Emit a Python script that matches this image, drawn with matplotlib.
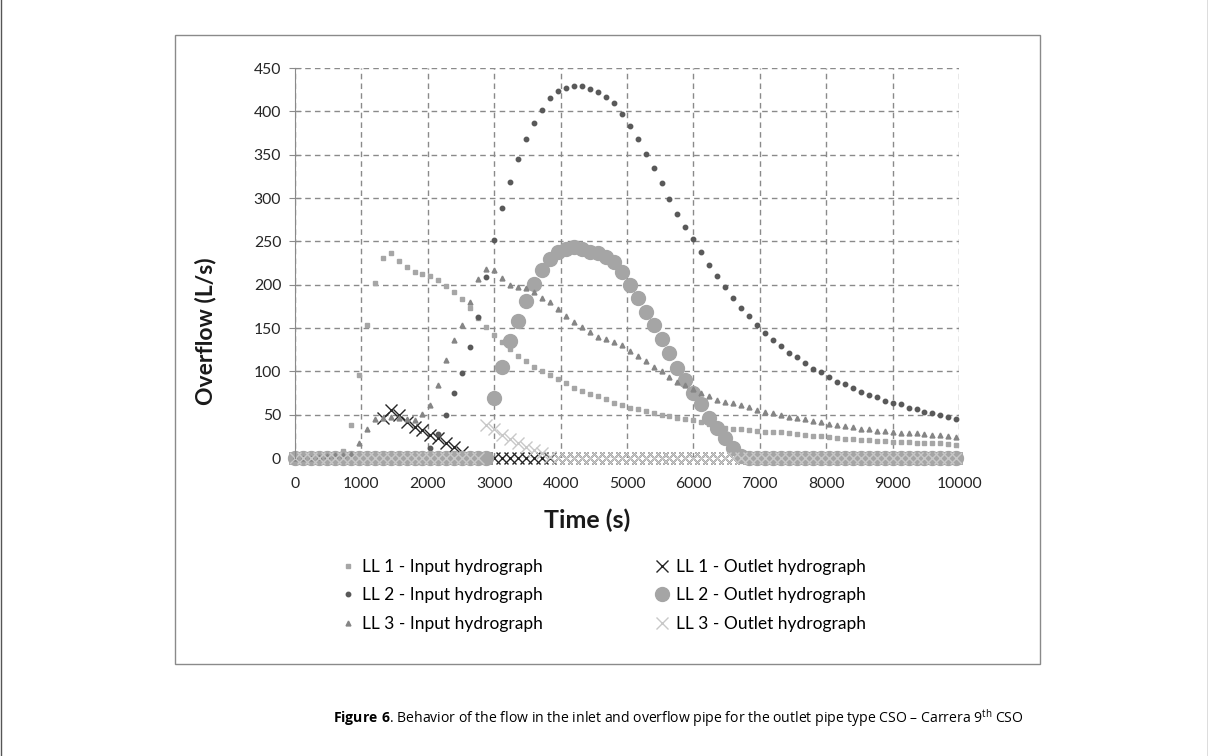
import numpy as np
import matplotlib
matplotlib.use("Agg")
import matplotlib.pyplot as plt
from matplotlib.patches import Rectangle
from matplotlib.lines import Line2D

plt.rcParams["font.family"] = ["Lato", "DejaVu Sans"]
plt.rcParams["mathtext.fontset"] = "custom"
plt.rcParams["mathtext.rm"] = "Open Sans"
plt.rcParams["mathtext.bf"] = "Open Sans:bold"

# time grid (s), one sample every 2 minutes
time = np.arange(0, 10000, 120)

ll1_input = [0, 0, 0, 0, 0, 1, 8, 38, 96, 154,
             202, 231, 236, 227, 220, 215, 212, 210, 205, 199,
             192, 184, 173, 161, 151, 142, 134, 126, 118, 112,
             105, 100, 96, 91, 86, 81, 77, 74, 71, 68,
             64, 61, 58, 56, 54, 52, 50, 48, 46.5, 45,
             44, 41, 39, 37, 35, 34, 33, 32, 31, 30.5,
             30, 29.5, 28.5, 27.5, 26.5, 25.5, 25, 24, 23, 22.5,
             22, 21, 20.5, 20, 19.5, 19, 18.5, 18, 17.5, 17.2,
             17, 16.8, 16.5, 15.5]

ll2_input = [0, 0, 0, 0, 0, 0, 0, 0, 0, 0,
             0, 0, 0, 0, 0, 0, 0, 11, 28, 50,
             75, 98, 128, 163, 209, 252, 289, 318, 345, 368,
             386, 402, 415, 423, 427, 429, 429, 426, 422, 417,
             410, 397, 383, 368, 351, 335, 317, 299, 282, 267,
             253, 238, 223, 210, 197, 185, 173, 164, 154, 144,
             136, 129, 121, 116, 110, 103, 99, 93, 88, 85,
             81, 76, 73, 70, 66, 64, 62, 58, 56, 53,
             52, 50, 47, 45]

ll3_input = [0, 0, 0, 1, 2, 3, 3, 5, 17, 34,
             45, 46, 47, 46, 45, 44, 51, 61, 84, 113,
             136, 154, 180, 207, 218, 217, 208, 200, 197, 196,
             192, 185, 180, 172, 164, 157, 151, 145, 140, 137,
             134, 130, 124, 118, 112, 105, 100, 94, 88, 84,
             80, 75, 71, 67, 65, 64, 61, 59, 55, 53.5,
             52.5, 49.5, 47.5, 46.5, 45, 43, 41, 39, 38, 37,
             36, 34, 33, 31.5, 31, 29.5, 29, 28.5, 28.5, 27.5,
             26.5, 26, 25.5, 24.5]

ll1_outlet = ([0] * 11 + [46, 55, 50, 42, 36, 32, 26.5, 23, 17, 13, 7]
              + [0] * 62)

ll2_outlet = ([0] * 25
              + [69, 105, 135, 158, 181, 201, 217, 230, 238, 241,
                 243, 241, 238, 236, 232, 226, 215, 200, 185, 169,
                 153, 137, 121, 104, 90, 75, 62, 46, 35, 23,
                 12, 2]
              + [0] * 27)

ll3_outlet = [0] * 24 + [38, 33, 26.5, 21.5, 17, 13, 9, 5.5, 1.5] + [0] * 51

W, H = 1208, 756
fig = plt.figure(figsize=(W / 100, H / 100), dpi=100)

# page frame and chart box
fig.add_artist(Line2D([0.5 / W, 0.5 / W], [0, 1], color="#555555", lw=1))
fig.add_artist(Line2D([1 - 0.5 / W, 1 - 0.5 / W], [0, 1], color="#555555", lw=1))
fig.add_artist(Rectangle((175 / W, 1 - 664 / H), 865 / W, 629 / H,
                         fill=False, edgecolor="#8a8a8a", lw=1))

ax = fig.add_axes([295 / W, 1 - 458 / H, 664 / W, 390 / H])

kw = dict(ls="none", clip_on=False)
h1, = ax.plot(time, ll1_input, marker="s", ms=3, color="#a6a6a6", mec="#a6a6a6", **kw)
h4, = ax.plot(time, ll1_outlet, marker="x", ms=9, mew=1, color="#262626", **kw)
h2, = ax.plot(time, ll2_input, marker="o", ms=3.2, color="#595959", mec="#595959", **kw)
h5, = ax.plot(time, ll2_outlet, marker="o", ms=10, color="#a5a5a5", mec="#a5a5a5", **kw)
h3, = ax.plot(time, ll3_input, marker="^", ms=3.5, color="#858585", mec="#858585", **kw)
h6, = ax.plot(time, ll3_outlet, marker="x", ms=9, mew=1, color="#c8c8c8", **kw)

ax.set_xlim(0, 10000)
ax.set_ylim(0, 450)
ax.set_xticks(range(0, 10001, 1000))
ax.set_yticks(range(0, 451, 50))
ax.grid(True, color="#8a8a8a", ls=(0, (4, 3)), lw=1)
ax.set_axisbelow(True)
for s in ["top", "right", "bottom"]:
    ax.spines[s].set_visible(False)
ax.spines["left"].set_color("#8a8a8a")
ax.tick_params(axis="y", direction="inout", length=8, color="#8a8a8a",
               labelsize=11.3, labelcolor="#262626", pad=6)
ax.tick_params(axis="x", length=0, labelsize=11.3, labelcolor="#262626", pad=14)

# axis titles, placed where the reference has them
fig.text(587 / W, 1 - 520 / H, "Time (s)", fontsize=18, fontweight="bold",
         ha="center", va="center", color="#1a1a1a")
fig.text(206 / W, 1 - 331 / H, "Overflow (L/s)", fontsize=16.5, fontweight="bold",
         ha="center", va="center", rotation=90, color="#1a1a1a")

leg_kw = dict(loc="upper left", frameon=False, fontsize=12.5, handlelength=0.9,
              handletextpad=0.3, labelspacing=0.72, borderpad=0, markerscale=1)
leg1 = fig.legend([h1, h2, h3],
                  ["LL 1 - Input hydrograph", "LL 2 - Input hydrograph", "LL 3 - Input hydrograph"],
                  bbox_to_anchor=(332 / W, 1 - 550 / H), **leg_kw)
leg2 = fig.legend([h4, h5, h6],
                  ["LL 1 - Outlet hydrograph", "LL 2 - Outlet hydrograph", "LL 3 - Outlet hydrograph"],
                  bbox_to_anchor=(646 / W, 1 - 550 / H), **leg_kw)

fig.text(333 / W, 1 - 718 / H,
         r"$\mathbf{Figure\ 6}$. Behavior of the flow in the inlet and overflow pipe for the "
         r"outlet pipe type CSO – Carrera 9$^{\mathrm{th}}$ CSO",
         fontsize=10.1, family=["Open Sans", "DejaVu Sans"], va="center", ha="left")

fig.savefig("out.png", dpi=100)
